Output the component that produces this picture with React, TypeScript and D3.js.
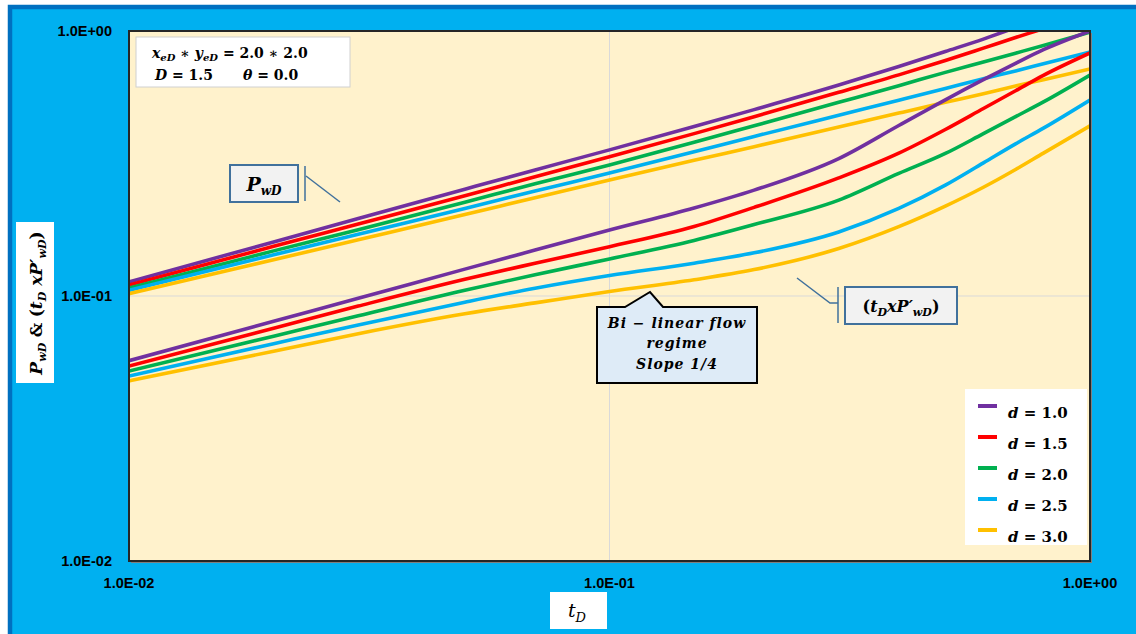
import React from "react";
import * as d3 from "d3";

// Dimensionless time samples
const tD = [0.01, 0.02, 0.03, 0.05, 0.07, 0.1, 0.15, 0.2, 0.3, 0.4, 0.5, 0.6, 0.7, 0.8, 1.0];

// Dimensionless pressure P_wD for each d
const pwdD10 = [0.113, 0.160, 0.196, 0.253, 0.299, 0.356, 0.436, 0.505, 0.625, 0.735, 0.837, 0.932, 1.03, 1.12, 1.29];
const pwdD15 = [0.110, 0.154, 0.187, 0.239, 0.282, 0.335, 0.410, 0.475, 0.587, 0.683, 0.774, 0.862, 0.945, 1.02, 1.17];
const pwdD20 = [0.107, 0.148, 0.178, 0.226, 0.265, 0.312, 0.380, 0.439, 0.538, 0.622, 0.698, 0.764, 0.825, 0.882, 0.99];
const pwdD25 = [0.105, 0.143, 0.171, 0.214, 0.249, 0.291, 0.350, 0.400, 0.481, 0.548, 0.607, 0.661, 0.707, 0.752, 0.833];
const pwdD30 = [0.102, 0.137, 0.163, 0.203, 0.235, 0.274, 0.325, 0.366, 0.434, 0.490, 0.538, 0.580, 0.620, 0.655, 0.719];

// Pressure derivative t_D * P'_wD for each d
const derD10 = [0.0570, 0.0803, 0.0980, 0.1263, 0.1490, 0.1775, 0.2148, 0.2509, 0.3300, 0.4400, 0.550, 0.655, 0.755, 0.850, 1.0];
const derD15 = [0.0544, 0.0756, 0.0916, 0.1156, 0.1329, 0.1535, 0.1830, 0.216, 0.279, 0.346, 0.425, 0.510, 0.595, 0.680, 0.826];
const derD20 = [0.0521, 0.0705, 0.0842, 0.1051, 0.1203, 0.1380, 0.162, 0.186, 0.230, 0.290, 0.345, 0.410, 0.475, 0.540, 0.682];
const derD25 = [0.0499, 0.0661, 0.0778, 0.0948, 0.1070, 0.1195, 0.1330, 0.1455, 0.1745, 0.214, 0.262, 0.318, 0.375, 0.430, 0.549];
const derD30 = [0.0478, 0.0619, 0.0721, 0.0857, 0.0942, 0.1040, 0.1151, 0.1258, 0.151, 0.1826, 0.2183, 0.2572, 0.3001, 0.3461, 0.4386];

const dLabels = ["1.0", "1.5", "2.0", "2.5", "3.0"];
const colors = ["#7030A0", "#FF0000", "#00B050", "#00B0F0", "#FFC000"];
const pwdSeries = [pwdD10, pwdD15, pwdD20, pwdD25, pwdD30];
const derSeries = [derD10, derD15, derD20, derD25, derD30];

const xTickValues = [0.01, 0.1, 1];
const xTickLabels = ["1.0E-02", "1.0E-01", "1.0E+00"];
const yTickValues = [0.01, 0.1, 1];
const yTickLabels = ["1.0E-02", "1.0E-01", "1.0E+00"];

const W = 1136;
const H = 634;
const PL = 129, PT = 31, PR = 1090, PB = 561;

const MATH = "'DejaVu Serif', 'Liberation Serif', serif";
const SANS = "'Liberation Sans', Arial, sans-serif";

type Seg = { t: string; sub?: boolean; it?: boolean; fs?: number };

// Renders a run of text pieces, lowering subscripts and restoring the baseline afterwards
function Rich({ segs, size, subSize, shift }: { segs: Seg[]; size: number; subSize: number; shift: number }) {
  const out: React.ReactNode[] = [];
  let down = false;
  segs.forEach((s, i) => {
    let dy = 0;
    if (s.sub && !down) { dy = shift; down = true; }
    else if (!s.sub && down) { dy = -shift; down = false; }
    out.push(
      <tspan key={i} dy={dy || undefined} fontSize={s.sub ? subSize : (s.fs ?? size)}
        fontStyle={s.it === false ? "normal" : "italic"}>
        {s.t}
      </tspan>
    );
  });
  return <>{out}</>;
}

export default function App() {
  const x = d3.scaleLog().domain([0.01, 1]).range([PL, PR]);
  const y = d3.scaleLog().domain([0.01, 1]).range([PB, PT]);
  const line = d3
    .line<number>()
    .x((_, i) => x(tD[i]))
    .y((v) => y(v))
    .curve(d3.curveMonotoneX);

  const legendY = [406, 437, 468, 499, 530];

  return (
    <svg width={W} height={H} style={{ position: "absolute", left: 0, top: 0 }}>
      <defs>
        <clipPath id="plotClip">
          <rect x={PL} y={PT} width={PR - PL} height={PB - PT} />
        </clipPath>
      </defs>

      {/* chart frame */}
      <rect x={10} y={7} width={1130} height={630} fill="#00B0F0" stroke="#0070C0" strokeWidth={4.5} />

      {/* plot area with shadow */}
      <rect x={PL + 2} y={PT + 2} width={PR - PL} height={PB - PT} fill="#7F7F7F" />
      <rect x={PL} y={PT} width={PR - PL} height={PB - PT} fill="#FFF2CC" />

      {/* gridlines */}
      {xTickValues.slice(1, -1).map((v) => (
        <line key={"gx" + v} x1={x(v)} x2={x(v)} y1={PT} y2={PB} stroke="#D9D9D9" strokeWidth={1} />
      ))}
      {yTickValues.slice(1, -1).map((v) => (
        <line key={"gy" + v} x1={PL} x2={PR} y1={y(v)} y2={y(v)} stroke="#D9D9D9" strokeWidth={1} />
      ))}

      {/* curves */}
      <g clipPath="url(#plotClip)" fill="none" strokeWidth={3.6} strokeLinejoin="round">
        {pwdSeries.map((s, k) => (
          <path key={"p" + k} d={line(s) ?? ""} stroke={colors[k]} />
        ))}
        {derSeries.map((s, k) => (
          <path key={"d" + k} d={line(s) ?? ""} stroke={colors[k]} />
        ))}
      </g>

      <rect x={PL} y={PT} width={PR - PL} height={PB - PT} fill="none" stroke="#262626" strokeWidth={2} />

      {/* tick labels */}
      <g fontFamily={SANS} fontWeight="bold" fontSize={14.5} fill="#000">
        {yTickValues.map((v, i) => (
          <text key={"yt" + i} x={112} y={y(v)} dy="0.36em" textAnchor="end">{yTickLabels[i]}</text>
        ))}
        {xTickValues.map((v, i) => (
          <text key={"xt" + i} x={x(v)} y={583} dy="0.36em" textAnchor="middle">{xTickLabels[i]}</text>
        ))}
      </g>

      {/* axis titles */}
      <rect x={550} y={592} width={57} height={37} fill="#FFFFFF" />
      <text x={577} y={617} textAnchor="middle" fontFamily={MATH} fill="#000">
        <Rich size={19} subSize={13} shift={5} segs={[{ t: "t" }, { t: "D", sub: true }]} />
      </text>

      <rect x={16} y={222} width={38} height={161} fill="#FFFFFF" />
      <g transform="translate(42,303) rotate(-90)">
        <text textAnchor="middle" fontFamily={MATH} fontWeight="bold" fill="#000">
          <Rich size={17} subSize={11} shift={4} segs={[
            { t: "P" }, { t: "wD", sub: true }, { t: " & ", it: false, fs: 16 }, { t: "(", it: false },
            { t: "t" }, { t: "D", sub: true }, { t: " xP′" }, { t: "wD", sub: true }, { t: ")", it: false },
          ]} />
        </text>
      </g>

      {/* parameter box */}
      <rect x={136} y={37} width={214} height={50} fill="#FFFFFF" stroke="#D0D0D0" strokeWidth={1} />
      <text x={152} y={58} fontFamily={MATH} fontWeight="bold" fill="#000">
        <Rich size={14} subSize={10} shift={3} segs={[
          { t: "x" }, { t: "eD", sub: true }, { t: " ∗ ", it: false }, { t: "y" }, { t: "eD", sub: true },
          { t: " = 2.0 ∗ 2.0", it: false },
        ]} />
      </text>
      <text x={155} y={80} fontFamily={MATH} fontWeight="bold" fill="#000">
        <Rich size={14} subSize={10} shift={3} segs={[{ t: "D" }, { t: " = 1.5", it: false }]} />
      </text>
      <text x={243} y={80} fontFamily={MATH} fontWeight="bold" fill="#000">
        <Rich size={14} subSize={10} shift={3} segs={[{ t: "θ" }, { t: " = 0.0", it: false }]} />
      </text>

      {/* P_wD callout */}
      <rect x={230} y={165} width={68} height={37} fill="#F2F2F2" stroke="#41719C" strokeWidth={2} />
      <text x={264} y={191} textAnchor="middle" fontFamily={MATH} fontWeight="bold" fill="#000">
        <Rich size={19} subSize={12} shift={4} segs={[{ t: "P" }, { t: "wD", sub: true }]} />
      </text>
      <line x1={305} x2={305} y1={166} y2={201} stroke="#41719C" strokeWidth={1.5} />
      <line x1={306} y1={176} x2={340} y2={202} stroke="#41719C" strokeWidth={1.5} />

      {/* derivative callout */}
      <rect x={845} y={287} width={112} height={37} fill="#F2F2F2" stroke="#41719C" strokeWidth={2} />
      <text x={901} y={312} textAnchor="middle" fontFamily={MATH} fontWeight="bold" fill="#000">
        <Rich size={16} subSize={11} shift={4} segs={[
          { t: "(", it: false }, { t: "t" }, { t: "D", sub: true }, { t: "xP′" }, { t: "wD", sub: true }, { t: ")", it: false },
        ]} />
      </text>
      <line x1={838} x2={838} y1={287} y2={323} stroke="#41719C" strokeWidth={1.5} />
      <polyline points="797,278 830,303 838,303" fill="none" stroke="#41719C" strokeWidth={1.5} />

      {/* flow regime callout */}
      <path d="M597,307 L625,307 L650,292 L663,307 L757,307 L757,383 L597,383 Z"
        fill="#DEEBF7" stroke="#000" strokeWidth={2} strokeLinejoin="miter" />
      <g fontFamily={MATH} fontWeight="bold" fontStyle="italic" fontSize={14} textAnchor="middle" fill="#000" letterSpacing={1}>
        <text x={677} y={328}>Bi − linear flow</text>
        <text x={677} y={348}>regime</text>
        <text x={677} y={369}>Slope 1/4</text>
      </g>

      {/* legend */}
      <rect x={965} y={389} width={122} height={156} fill="#FFFFFF" />
      {dLabels.map((lab, i) => (
        <g key={"lg" + i}>
          <line x1={978} x2={997} y1={legendY[i]} y2={legendY[i]} stroke={colors[i]} strokeWidth={4} />
          <text x={1008} y={legendY[i] + 12} fontFamily={MATH} fontWeight="bold" fill="#000">
            <Rich size={15} subSize={10} shift={3} segs={[{ t: "d" }, { t: " = " + lab, it: false }]} />
          </text>
        </g>
      ))}
    </svg>
  );
}
